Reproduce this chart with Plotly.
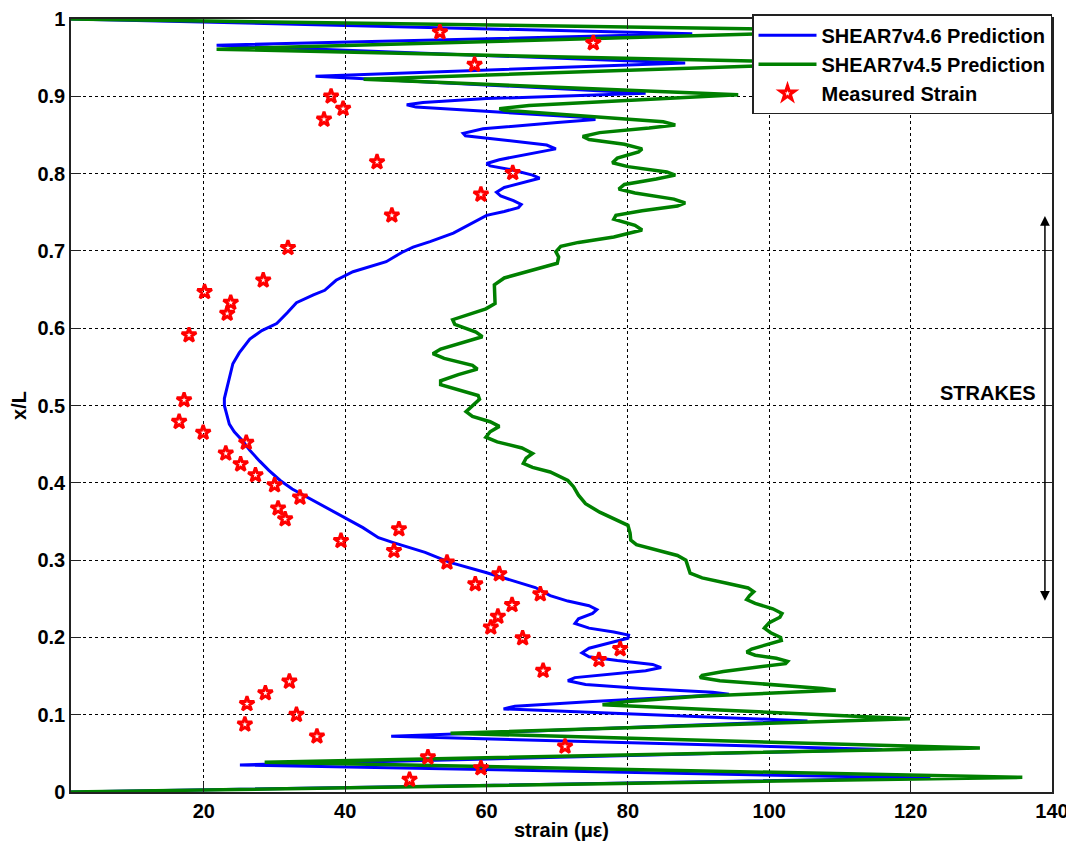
import plotly.graph_objects as go

# ---------------- data ----------------
blue_x = [1.2, 122.8, 25.1, 116.0, 46.5, 105.4, 62.4, 64.0, 75.0, 88.0, 94.3, 92.0, 82.0, 74.0, 71.5,
          72.5, 77.0, 82.5, 84.7, 83.5, 78.5, 74.5, 73.5, 74.5, 77.5, 80.0, 80.1, 78.0, 74.5, 72.5,
          73.0, 75.0, 75.6, 74.5, 71.5, 69.0, 66.9, 63.9, 59.9, 54.8, 51.3, 46.7, 44.7, 42.5, 40.7,
          37.9, 34.5, 32.5, 30.8, 29.2, 27.9, 26.5, 25.5, 24.3, 23.6, 23.3, 22.9, 22.9, 23.3, 23.6,
          24.1, 25.0, 26.5, 28.2, 30.3, 31.8, 33.1, 35.5, 37.1, 38.7, 41.1, 45.8, 48.0, 49.6, 52.0,
          55.3, 58.1, 60.0, 62.5, 64.5, 64.9, 63.8, 62.0, 61.4, 62.5, 65.5, 67.5, 66.5, 63.5, 60.5,
          60.0, 61.8, 66.5, 69.8, 68.5, 62.0, 57.0, 56.7, 59.5, 70.0, 75.4, 73.5, 60.0, 50.0, 48.7,
          51.0, 60.0, 82.5, 35.8, 88.1, 21.8, 89.1, 1.2]
blue_y = [0.000, 0.018, 0.035, 0.055, 0.072, 0.092, 0.1075, 0.111, 0.117, 0.123, 0.1265, 0.129, 0.134, 0.139, 0.144,
          0.148, 0.152, 0.157, 0.161, 0.165, 0.170, 0.175, 0.180, 0.186, 0.193, 0.199, 0.203, 0.207, 0.212, 0.218,
          0.224, 0.231, 0.236, 0.241, 0.247, 0.254, 0.2645, 0.273, 0.284, 0.297, 0.310, 0.323, 0.329, 0.342, 0.351,
          0.364, 0.381, 0.392, 0.403, 0.416, 0.428, 0.442, 0.454, 0.466, 0.476, 0.488, 0.500, 0.509, 0.523, 0.535,
          0.554, 0.568, 0.586, 0.597, 0.606, 0.620, 0.633, 0.643, 0.649, 0.662, 0.673, 0.686, 0.698, 0.705, 0.712,
          0.723, 0.737, 0.746, 0.751, 0.756, 0.760, 0.765, 0.771, 0.776, 0.782, 0.789, 0.794, 0.798, 0.805, 0.810,
          0.813, 0.818, 0.826, 0.832, 0.837, 0.844, 0.849, 0.852, 0.858, 0.866, 0.870, 0.873, 0.880, 0.886, 0.889,
          0.892, 0.897, 0.904, 0.926, 0.943, 0.966, 0.981, 1.000]

green_x = [1.2, 135.8, 28.6, 129.8, 54.9, 119.9, 76.4, 80.0, 90.0, 100.0, 107.0, 109.4, 107.5, 100.0, 93.0,
           90.2, 90.5, 93.5, 99.0, 102.3, 102.6, 101.0, 98.0, 96.8, 97.5, 100.0, 101.7, 101.6, 100.2, 99.3,
           100.0, 101.5, 101.8, 100.5, 98.0, 96.8, 97.2, 97.8, 97.0, 94.0, 90.5, 88.8, 88.5, 88.2, 87.0,
           84.0, 81.2, 80.4, 80.3, 80.0, 78.0, 76.0, 74.0, 73.0, 72.3, 71.5, 69.0, 66.5, 65.2, 65.6,
           66.5, 65.0, 61.5, 59.9, 60.5, 61.8, 60.5, 58.0, 57.1, 58.0, 59.0, 58.8, 56.0, 53.5, 53.5,
           56.0, 58.7, 58.0, 54.0, 52.4, 53.5, 57.0, 59.4, 58.5, 55.5, 55.2, 57.5, 59.9, 61.2, 61.2,
           61.1, 62.5, 66.0, 70.0, 70.2, 69.8, 70.5, 73.0, 78.0, 82.0, 81.0, 78.0, 78.3, 82.0, 87.0,
           88.1, 86.5, 81.0, 78.7, 79.5, 84.0, 86.7, 85.5, 80.0, 77.8, 78.5, 81.5, 82.0, 79.5, 74.5,
           73.6, 76.0, 83.0, 86.7, 85.0, 72.0, 62.5, 61.8, 66.0, 95.6, 42.6, 110.0, 21.8, 115.0, 1.2]
green_y = [0.000, 0.019, 0.0386, 0.057, 0.076, 0.0946, 0.113, 0.117, 0.124, 0.128, 0.130, 0.1315, 0.134, 0.139, 0.144,
           0.148, 0.151, 0.156, 0.162, 0.166, 0.169, 0.173, 0.177, 0.181, 0.185, 0.191, 0.196, 0.200, 0.206, 0.212,
           0.219, 0.226, 0.231, 0.237, 0.244, 0.249, 0.254, 0.259, 0.264, 0.270, 0.277, 0.283, 0.290, 0.300, 0.306,
           0.313, 0.320, 0.326, 0.335, 0.345, 0.353, 0.362, 0.373, 0.384, 0.395, 0.403, 0.414, 0.420, 0.425, 0.432,
           0.438, 0.445, 0.453, 0.459, 0.466, 0.473, 0.479, 0.486, 0.492, 0.500, 0.508, 0.513, 0.520, 0.527, 0.532,
           0.540, 0.547, 0.552, 0.561, 0.567, 0.573, 0.582, 0.589, 0.595, 0.605, 0.611, 0.618, 0.625, 0.632, 0.645,
           0.656, 0.665, 0.674, 0.684, 0.692, 0.699, 0.706, 0.711, 0.718, 0.727, 0.733, 0.741, 0.746, 0.752, 0.758,
           0.762, 0.767, 0.775, 0.780, 0.786, 0.793, 0.798, 0.802, 0.809, 0.814, 0.820, 0.828, 0.832, 0.838, 0.844,
           0.848, 0.853, 0.859, 0.863, 0.867, 0.876, 0.882, 0.884, 0.888, 0.902, 0.922, 0.943, 0.961, 0.985, 1.000]

meas_x = [53.4, 75.1, 58.3, 38.0, 39.7, 37.0, 44.5, 63.7, 59.2, 46.6, 31.9, 28.4, 20.1, 23.8, 23.3,
          17.9, 17.2, 16.5, 19.9, 26.0, 23.1, 25.2, 27.3, 30.0, 33.6, 30.5, 31.5, 47.6, 39.4, 46.9,
          54.4, 61.8, 58.4, 67.6, 63.6, 61.6, 60.6, 65.1, 78.9, 75.9, 68.0, 32.1, 28.7, 26.1, 33.1,
          25.8, 36.0, 71.1, 51.7, 59.2, 49.1]
meas_y = [0.983, 0.969, 0.941, 0.900, 0.884, 0.870, 0.815, 0.801, 0.773, 0.746, 0.704, 0.662, 0.647, 0.633, 0.619,
          0.591, 0.507, 0.479, 0.465, 0.452, 0.438, 0.424, 0.410, 0.397, 0.381, 0.367, 0.353, 0.340, 0.325, 0.312,
          0.297, 0.282, 0.269, 0.256, 0.242, 0.227, 0.213, 0.199, 0.185, 0.171, 0.157, 0.143, 0.128, 0.114, 0.100,
          0.0875, 0.072, 0.059, 0.045, 0.031, 0.016]

x_ticks = [20, 40, 60, 80, 100, 120, 140]
y_ticks = [0, 0.1, 0.2, 0.3, 0.4, 0.5, 0.6, 0.7, 0.8, 0.9, 1]
y_tick_labels = ["0", "0.1", "0.2", "0.3", "0.4", "0.5", "0.6", "0.7", "0.8", "0.9", "1"]

strakes_x = 139.0
strakes_y = [0.2455, 0.745]
strakes_label_y = 0.516

# ---------------- figure ----------------
FONT = "Arial, 'Liberation Sans', Helvetica, sans-serif"

fig = go.Figure()
fig.add_trace(go.Scatter(x=blue_x, y=blue_y, mode="lines", name="SHEAR7v4.6 Prediction",
                         line=dict(color="#0000ff", width=3)))
fig.add_trace(go.Scatter(x=green_x, y=green_y, mode="lines", name="SHEAR7v4.5 Prediction",
                         line=dict(color="#008000", width=3.5)))
fig.add_trace(go.Scatter(x=meas_x, y=meas_y, mode="markers", name="Measured Strain",
                         marker=dict(symbol="star-open", size=11, color="#ff0000",
                                     line=dict(width=3, color="#ff0000"))))

# STRAKES double arrow
fig.add_annotation(x=strakes_x, y=strakes_y[1], ax=strakes_x, ay=strakes_y[0],
                   xref="x", yref="y", axref="x", ayref="y", text="",
                   showarrow=True, arrowhead=2, arrowside="end+start", arrowsize=1.3,
                   arrowwidth=1.5, arrowcolor="black")
fig.add_annotation(x=138.0, y=strakes_label_y, xref="x", yref="y", text="STRAKES",
                   showarrow=False, xanchor="right", yanchor="middle",
                   font=dict(family=FONT, size=20, color="black", weight="bold"))

axis_common = dict(showgrid=True, gridcolor="#000000", gridwidth=1, griddash="dot",
                   zeroline=False, showline=True, linecolor="#222222", linewidth=1.5,
                   mirror="ticks", ticks="inside", ticklen=10, tickwidth=1, tickcolor="#222222",
                   automargin=False, ticklabeloverflow="allow",
                   tickfont=dict(family=FONT, size=20, color="black", weight="bold"))

fig.update_xaxes(range=[1.2, 140], tickvals=x_ticks, ticktext=[str(v) for v in x_ticks],
                 title=dict(text="strain (με)", standoff=2,
                            font=dict(family=FONT, size=20, color="black", weight="bold")),
                 **axis_common)
fig.update_yaxes(range=[0, 1], tickvals=y_ticks, ticktext=y_tick_labels,
                 title=dict(text="x/L", standoff=10,
                            font=dict(family=FONT, size=20, color="black", weight="bold")),
                 **axis_common)

# the page body has an 8px margin, so the figure is sized / offset to compensate
fig.update_layout(
    width=1066, height=837,
    margin=dict(l=63, r=22, t=11, b=53, autoexpand=False),
    paper_bgcolor="white", plot_bgcolor="white",
    font=dict(family=FONT, size=20, color="black", weight="bold"),
    showlegend=True,
    legend=dict(x=1, y=1.006, xanchor="right", yanchor="top", bgcolor="white",
                bordercolor="#222222", borderwidth=1.5,
                font=dict(family=FONT, size=20, color="black", weight="bold"),
                itemwidth=58, tracegroupgap=0),
)

fig.write_html("out.html")
